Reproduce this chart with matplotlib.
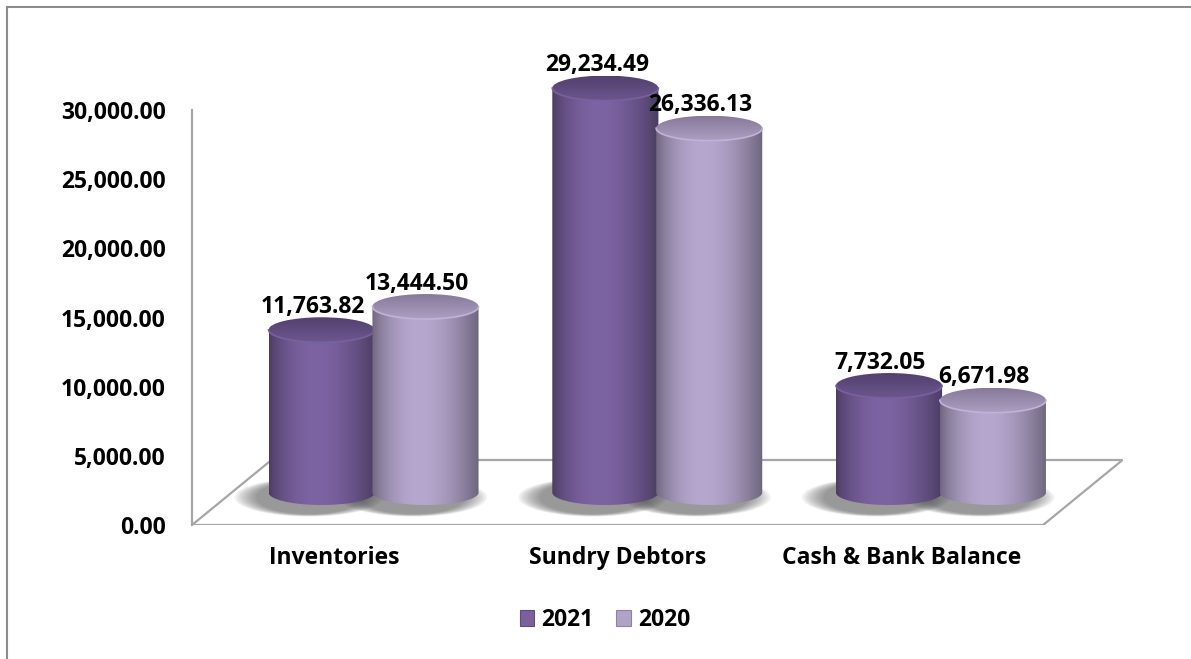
import numpy as np
import matplotlib
matplotlib.use('Agg')
import matplotlib.pyplot as plt
from matplotlib.patches import Polygon, Ellipse, Patch
from matplotlib.lines import Line2D

categories = ['Inventories', 'Sundry Debtors', 'Cash & Bank Balance']
series = ['2021', '2020']
values_2021 = [11763.82, 29234.49, 7732.05]
values_2020 = [13444.50, 26336.13, 6671.98]
yticks = [0, 5000, 10000, 15000, 20000, 25000, 30000]

plt.rcParams['font.family'] = ['Open Sans', 'DejaVu Sans']
plt.rcParams['font.weight'] = 'bold'
FS = 16.5

W, H = 1191, 659
fig = plt.figure(figsize=(W / 100, H / 100), dpi=100)

# pixel scale of the plot area
px_x = 283.7            # pixels per category unit
px_y = 13.833 / 1000    # pixels per value unit
left_px, base_px = 192, 525
xmin, xmax = -0.5, 2.8
ymin, ymax = 0, 34000
ax = fig.add_axes([left_px / W, (H - base_px) / H,
                   (xmax - xmin) * px_x / W, (ymax - ymin) * px_y / H])
ax.set_xlim(xmin, xmax)
ax.set_ylim(ymin, ymax)

# floor depth (full) and the cylinders sit at half depth
ddx, ddy = 0.28, 65 / px_y
hdx, hdy = ddx / 2, ddy / 2
cyl_w = 0.374
ell_h = 25 / px_y
offs = [-0.183, 0.183]

# floor outline
fx = [-0.5, 2.5, 2.5 + ddx, -0.5 + ddx, -0.5]
fy = [0, 0, ddy, ddy, 0]
ax.plot(fx, fy, color='#A6A6A6', lw=1.6, zorder=1, solid_joinstyle='miter')


def shade_profile(n=256):
    t = np.linspace(0, 1, n)
    return 0.6 + 0.4 * np.sin(np.pi * t ** 0.85) ** 0.9


def cylinder(xc, value, peak, top_back, top_front, z):
    base = hdy
    top = value + hdy
    x1, x2 = xc - cyl_w / 2, xc + cyl_w / 2
    th = np.linspace(np.pi, 2 * np.pi, 80)
    bx = xc + cyl_w / 2 * np.cos(th)
    by = base + ell_h / 2 * np.sin(th)
    verts = np.vstack([[[x1, top]], np.column_stack([bx, by]), [[x2, top]]])
    body = Polygon(verts, closed=True, facecolor='none', edgecolor='none')
    ax.add_patch(body)
    prof = shade_profile()
    grad = np.clip(np.array(peak)[None, None, :] * prof[None, :, None], 0, 1)
    grad = np.repeat(grad, 2, axis=0)
    im = ax.imshow(grad, extent=(x1, x2, base - ell_h / 2, top), origin='lower',
                   aspect='auto', interpolation='bilinear', zorder=z)
    im.set_clip_path(body)

    cap = Ellipse((xc, top), cyl_w, ell_h, facecolor='none', edgecolor='none')
    ax.add_patch(cap)
    tv = np.linspace(0, 1, 64)[:, None, None]
    cg = np.array(top_front)[None, None, :] * (1 - tv) + np.array(top_back)[None, None, :] * tv
    cg = np.repeat(cg, 2, axis=1)
    im2 = ax.imshow(cg, extent=(x1, x2, top - ell_h / 2, top + ell_h / 2), origin='lower',
                    aspect='auto', interpolation='bilinear', zorder=z + 0.1)
    im2.set_clip_path(cap)
    rim = np.array(top_front) * 1.12
    ax.plot(xc + cyl_w / 2 * np.cos(th), top + ell_h / 2 * np.sin(th),
            color=np.clip(rim, 0, 1), lw=1.2, zorder=z + 0.2)


def shadow(xc):
    # soft contact shadow on the floor, thrown to the front-left
    for k in range(10):
        s = 1.4 - k * 0.045
        ax.add_patch(Ellipse((xc - 0.045, hdy - 350), cyl_w * s, ell_h * (0.9 + s * 0.45),
                             facecolor='#404040', edgecolor='none', alpha=0.07, zorder=2))


col_2021 = dict(peak=(0x7C / 255, 0x63 / 255, 0xA2 / 255),
                top_back=(0x52 / 255, 0x40 / 255, 0x6E / 255),
                top_front=(0x6C / 255, 0x57 / 255, 0x8E / 255))
col_2020 = dict(peak=(0xB6 / 255, 0xA7 / 255, 0xCE / 255),
                top_back=(0x86 / 255, 0x7A / 255, 0x9A / 255),
                top_front=(0xAC / 255, 0x9F / 255, 0xC2 / 255))

for i in range(len(categories)):
    for j in range(2):
        shadow(i + hdx + offs[j])

for i in range(len(categories)):
    for j, (vals, col) in enumerate([(values_2021, col_2021), (values_2020, col_2020)]):
        xc = i + hdx + offs[j]
        z = 3 + i + j * 0.5
        cylinder(xc, vals[i], col['peak'], col['top_back'], col['top_front'], z)
        ax.text(xc - 0.03, vals[i] + hdy + 11 / px_y, f'{vals[i]:,.2f}',
                ha='center', va='bottom', fontsize=FS, fontweight='bold',
                color='black', zorder=10)

# axes styling
for s in ['top', 'right', 'bottom']:
    ax.spines[s].set_visible(False)
ax.spines['left'].set_bounds(0, 30000)
ax.spines['left'].set_color('#A6A6A6')
ax.spines['left'].set_linewidth(1.6)
ax.set_yticks(yticks)
ax.set_yticklabels([f'{v:,.2f}' for v in yticks])
ax.set_xticks(range(len(categories)))
ax.set_xticklabels(categories)
ax.tick_params(axis='y', length=0, pad=19, labelsize=FS)
ax.tick_params(axis='x', length=0, pad=15, labelsize=FS)
for lab in ax.get_xticklabels() + ax.get_yticklabels():
    lab.set_fontweight('bold')
ax.patch.set_alpha(0)

handles = [Patch(facecolor='#7A619E', edgecolor='#5E4A80', lw=0.8),
           Patch(facecolor='#B1A3C7', edgecolor='#8E81A3', lw=0.8)]
fig.legend(handles, series, loc='center', bbox_to_anchor=(605 / W, 1 - 620 / H),
           ncol=2, frameon=False, handlelength=0.65, handleheight=0.65,
           handletextpad=0.3, columnspacing=1.0, prop={'size': FS, 'weight': 'bold'})

# chart border
fig.add_artist(Line2D([7 / W, 7 / W], [0, 1 - 6.5 / H], transform=fig.transFigure,
                      color='#8C8C8C', lw=1.5))
fig.add_artist(Line2D([7 / W, 1], [1 - 6.5 / H, 1 - 6.5 / H], transform=fig.transFigure,
                      color='#8C8C8C', lw=1.5))

fig.savefig('out.png', dpi=100)
